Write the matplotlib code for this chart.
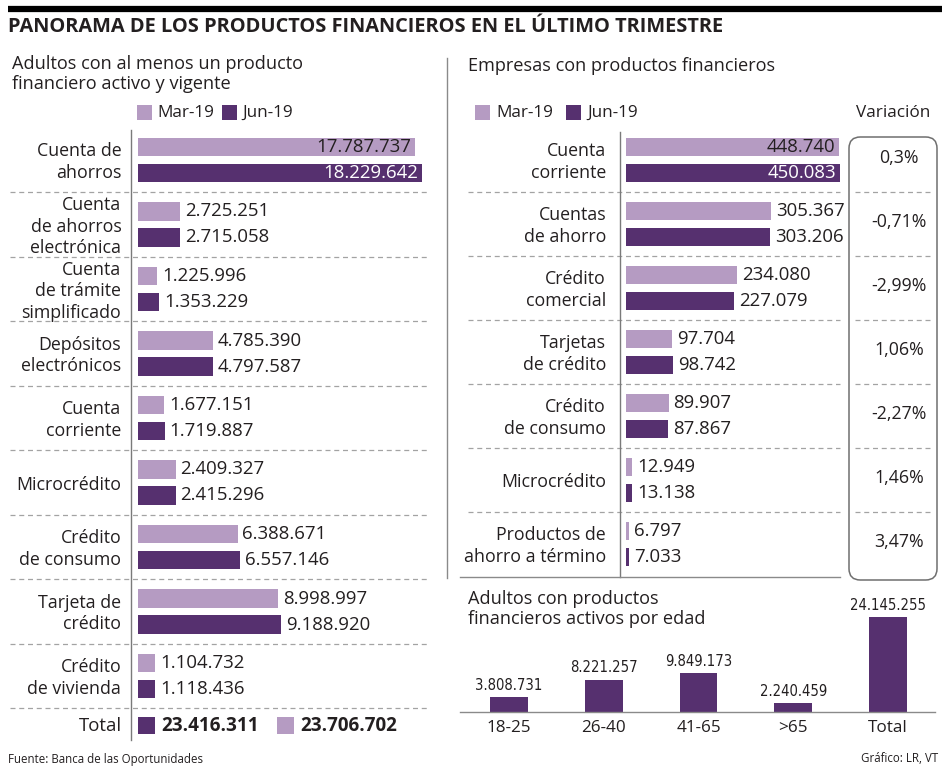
import matplotlib
matplotlib.use("Agg")
import matplotlib.pyplot as plt
from matplotlib.patches import Rectangle, FancyBboxPatch
from matplotlib.lines import Line2D
import matplotlib.transforms as mtransforms

plt.rcParams['font.family'] = ['Open Sans', 'DejaVu Sans']

# ---------------- data ----------------
left_cats = ["Cuenta de\nahorros", "Cuenta\nde ahorros\nelectrónica", "Cuenta\nde trámite\nsimplificado",
             "Depósitos\nelectrónicos", "Cuenta\ncorriente", "Microcrédito", "Crédito\nde consumo",
             "Tarjeta de\ncrédito", "Crédito\nde vivienda"]
left_mar = [17787737, 2725251, 1225996, 4785390, 1677151, 2409327, 6388671, 8998997, 1104732]
left_jun = [18229642, 2715058, 1353229, 4797587, 1719887, 2415296, 6557146, 9188920, 1118436]
total_values = [23416311, 23706702]

right_cats = ["Cuenta\ncorriente", "Cuentas\nde ahorro", "Crédito\ncomercial", "Tarjetas\nde crédito",
              "Crédito\nde consumo", "Microcrédito", "Productos de\nahorro a término"]
right_mar = [448740, 305367, 234080, 97704, 89907, 12949, 6797]
right_jun = [450083, 303206, 227079, 98742, 87867, 13138, 7033]
variation = ["0,3%", "-0,71%", "-2,99%", "1,06%", "-2,27%", "1,46%", "3,47%"]

age_cats = ["18-25", "26-40", "41-65", ">65", "Total"]
age_vals = [3808731, 8221257, 9849173, 2240459, 24145255]

legend_labels = ["Mar-19", "Jun-19"]

# ---------------- style ----------------
LIGHT = "#b59bc2"
DARK = "#56306f"
TXT = "#231f20"
GRID = "#a3a3a3"
VAL_FS = 13.4
CAT_FS = 12.8

W, H = 942, 767
fig = plt.figure(figsize=(W / 100, H / 100), dpi=100)


def fx(px):
    return px / W


def fy(py):
    return 1 - py / H


def box(x0, y0, x1, y1):
    return [x0 / W, 1 - y1 / H, (x1 - x0) / W, (y1 - y0) / H]


def fmt(v):
    return f"{v:,}".replace(",", ".")


def hline(x0, x1, y, **kw):
    fig.add_artist(Line2D([fx(x0), fx(x1)], [fy(y), fy(y)], transform=fig.transFigure, **kw))


def vline(x, y0, y1, **kw):
    fig.add_artist(Line2D([fx(x), fx(x)], [fy(y0), fy(y1)], transform=fig.transFigure, **kw))


def square(x0, y0, size, color):
    fig.add_artist(Rectangle((fx(x0), fy(y0 + size)), size / W, size / H,
                             transform=fig.transFigure, color=color, lw=0))


# ---------------- header ----------------
hline(8, 942, 9, color="black", lw=4.5, solid_capstyle='butt')
fig.text(fx(8), fy(27), "PANORAMA DE LOS PRODUCTOS FINANCIEROS EN EL ÚLTIMO TRIMESTRE",
         fontsize=14.4, fontweight='bold', color=TXT, va='center', ha='left')

# ---------------- left panel ----------------
fig.text(fx(12), fy(74), "Adultos con al menos un producto\nfinanciero activo y vigente",
         fontsize=13.1, color=TXT, va='center', ha='left', linespacing=1.2)
square(137, 105, 15, LIGHT)
fig.text(fx(157), fy(113), legend_labels[0], fontsize=12.3, color=TXT, va='center')
square(222, 105, 15, DARK)
fig.text(fx(242), fy(113), legend_labels[1], fontsize=12.3, color=TXT, va='center')

row_h = 64.5
y0_row = 160
ax_top, ax_bot = 130, 740
axL = fig.add_axes(box(131, ax_top, 440, ax_bot))
scaleL = 18229642 / 284.0
axL.set_xlim(-7 * scaleL, (440 - 138) * scaleL)
axL.set_ylim((ax_bot - y0_row) / row_h, (ax_top - y0_row) / row_h)
off, bh = 13 / row_h, 18.5 / row_h
idxL = list(range(len(left_cats)))
axL.barh([i - off for i in idxL], left_mar, height=bh, color=LIGHT)
axL.barh([i + off for i in idxL], left_jun, height=bh, color=DARK)
for s in ['top', 'right', 'bottom']:
    axL.spines[s].set_visible(False)
axL.spines['left'].set_color("#7a7a7a")
axL.spines['left'].set_linewidth(1.0)
axL.set_xticks([])
axL.set_yticks([])
axL.patch.set_alpha(0)
for i, (m, j) in enumerate(zip(left_mar, left_jun)):
    if i == 0:
        axL.annotate(fmt(m), (m, i - off), xytext=(-3, 0), textcoords='offset points',
                     ha='right', va='center', fontsize=VAL_FS, color=TXT)
        axL.annotate(fmt(j), (j, i + off), xytext=(-3, 0), textcoords='offset points',
                     ha='right', va='center', fontsize=VAL_FS, color='white')
    else:
        axL.annotate(fmt(m), (m, i - off), xytext=(3.5, 0), textcoords='offset points',
                     ha='left', va='center', fontsize=VAL_FS, color=TXT)
        axL.annotate(fmt(j), (j, i + off), xytext=(3.5, 0), textcoords='offset points',
                     ha='left', va='center', fontsize=VAL_FS, color=TXT)
    axL.annotate(left_cats[i], (0, i), xycoords=('axes fraction', 'data'), xytext=(-7, -1.5),
                 textcoords='offset points', ha='right', va='center', fontsize=CAT_FS,
                 color=TXT, multialignment='right', linespacing=1.25, annotation_clip=False)
transL = mtransforms.blended_transform_factory(fig.transFigure, axL.transData)
for i in idxL:
    axL.add_line(Line2D([fx(10), fx(430)], [i + 0.5, i + 0.5], transform=transL,
                        color=GRID, lw=0.9, dashes=(4, 3), clip_on=False))

# Total row
fig.text(fx(122), fy(726), "Total", fontsize=13.4, color=TXT, ha='right', va='center')
square(138, 717, 17, DARK)
fig.text(fx(161), fy(726), fmt(total_values[0]), fontsize=13.6, fontweight='bold',
         color=TXT, ha='left', va='center')
square(277, 717, 17, LIGHT)
fig.text(fx(300), fy(726), fmt(total_values[1]), fontsize=13.6, fontweight='bold',
         color=TXT, ha='left', va='center')

# divider
vline(447, 58, 578, color="#8a8a8a", lw=1)

# ---------------- right panel ----------------
fig.text(fx(468), fy(66), "Empresas con productos financieros", fontsize=13.1, color=TXT,
         va='center', ha='left')
square(475, 105, 15, LIGHT)
fig.text(fx(496), fy(113), legend_labels[0], fontsize=12.3, color=TXT, va='center')
square(566, 105, 15, DARK)
fig.text(fx(587), fy(113), legend_labels[1], fontsize=12.3, color=TXT, va='center')
fig.text(fx(930), fy(113), "Variación", fontsize=12.3, color=TXT, va='center', ha='right')

row_hr = 64.0
r_top, r_bot = 132, 577
axR = fig.add_axes(box(620, r_top, 845, r_bot))
scaleR = 450083 / 214.0
axR.set_xlim(-6 * scaleR, (845 - 626) * scaleR)
axR.set_ylim((r_bot - y0_row) / row_hr, (r_top - y0_row) / row_hr)
offR, bhR = 13 / row_hr, 18.5 / row_hr
idxR = list(range(len(right_cats)))
axR.barh([i - offR for i in idxR], right_mar, height=bhR, color=LIGHT)
axR.barh([i + offR for i in idxR], right_jun, height=bhR, color=DARK)
for s in ['top', 'right', 'bottom']:
    axR.spines[s].set_visible(False)
axR.spines['left'].set_color("#7a7a7a")
axR.spines['left'].set_linewidth(1.0)
axR.set_xticks([])
axR.set_yticks([])
axR.patch.set_alpha(0)
for i, (m, j) in enumerate(zip(right_mar, right_jun)):
    if i == 0:
        axR.annotate(fmt(m), (m, i - offR), xytext=(-3, 0), textcoords='offset points',
                     ha='right', va='center', fontsize=VAL_FS, color=TXT)
        axR.annotate(fmt(j), (j, i + offR), xytext=(-3, 0), textcoords='offset points',
                     ha='right', va='center', fontsize=VAL_FS, color='white')
    else:
        axR.annotate(fmt(m), (m, i - offR), xytext=(3.5, 0), textcoords='offset points',
                     ha='left', va='center', fontsize=VAL_FS, color=TXT)
        axR.annotate(fmt(j), (j, i + offR), xytext=(3.5, 0), textcoords='offset points',
                     ha='left', va='center', fontsize=VAL_FS, color=TXT)
    axR.annotate(right_cats[i], (0, i), xycoords=('axes fraction', 'data'), xytext=(-10, -1.5),
                 textcoords='offset points', ha='right', va='center', fontsize=CAT_FS,
                 color=TXT, multialignment='right', linespacing=1.25, annotation_clip=False)
transR = mtransforms.blended_transform_factory(fig.transFigure, axR.transData)
for i in idxR[:-1]:
    axR.add_line(Line2D([fx(468), fx(840)], [i + 0.5, i + 0.5], transform=transR,
                        color=GRID, lw=0.9, dashes=(4, 3), clip_on=False))
    axR.add_line(Line2D([fx(855), fx(931)], [i + 0.5, i + 0.5], transform=transR,
                        color=GRID, lw=0.9, dashes=(4, 3), clip_on=False))
for i, v in enumerate(variation):
    axR.text(fx(899), i - 0.03, v, transform=transR, ha='center', va='center',
             fontsize=12.8, color=TXT, clip_on=False)
hline(460, 840, 577, color="#8a8a8a", lw=1)
fig.add_artist(FancyBboxPatch((fx(849), fy(580)), (937 - 849) / W, (580 - 137) / H,
                              boxstyle="round,pad=0,rounding_size=0.012",
                              transform=fig.transFigure, fc='none', ec="#6f6f6f", lw=1.1,
                              mutation_aspect=W / H))

# ---------------- age panel ----------------
fig.text(fx(468), fy(609), "Adultos con productos\nfinancieros activos por edad", fontsize=13.1,
         color=TXT, va='center', ha='left', linespacing=1.1)
axA = fig.add_axes(box(460, 600, 935, 712))
xs = list(range(len(age_cats)))
axA.bar(xs, age_vals, width=0.4, color=DARK)
axA.set_xlim(-0.517, 4.496)
axA.set_ylim(0, 24145255 * 112 / 95.0)
for s in ['top', 'right', 'left']:
    axA.spines[s].set_visible(False)
axA.spines['bottom'].set_color("#8a8a8a")
axA.spines['bottom'].set_linewidth(1.0)
axA.set_yticks([])
axA.set_xticks(xs)
axA.set_xticklabels(age_cats, fontsize=12.3, color=TXT)
axA.tick_params(axis='x', length=0, pad=6)
axA.patch.set_alpha(0)
for x, v in zip(xs, age_vals):
    axA.annotate(fmt(v), (x, v), xytext=(0, 3), textcoords='offset points', ha='center',
                 va='bottom', fontsize=10.6, family=['DejaVu Sans'], fontstretch='condensed',
                 color=TXT, annotation_clip=False)

# ---------------- footer ----------------
fig.text(fx(8), fy(760), "Fuente: Banca de las Oportunidades", fontsize=8.3, color=TXT,
         va='center', ha='left')
fig.text(fx(938), fy(759), "Gráfico: LR, VT", fontsize=8.3, color=TXT, va='center', ha='right')

fig.savefig("out.png", dpi=100, facecolor='white')
